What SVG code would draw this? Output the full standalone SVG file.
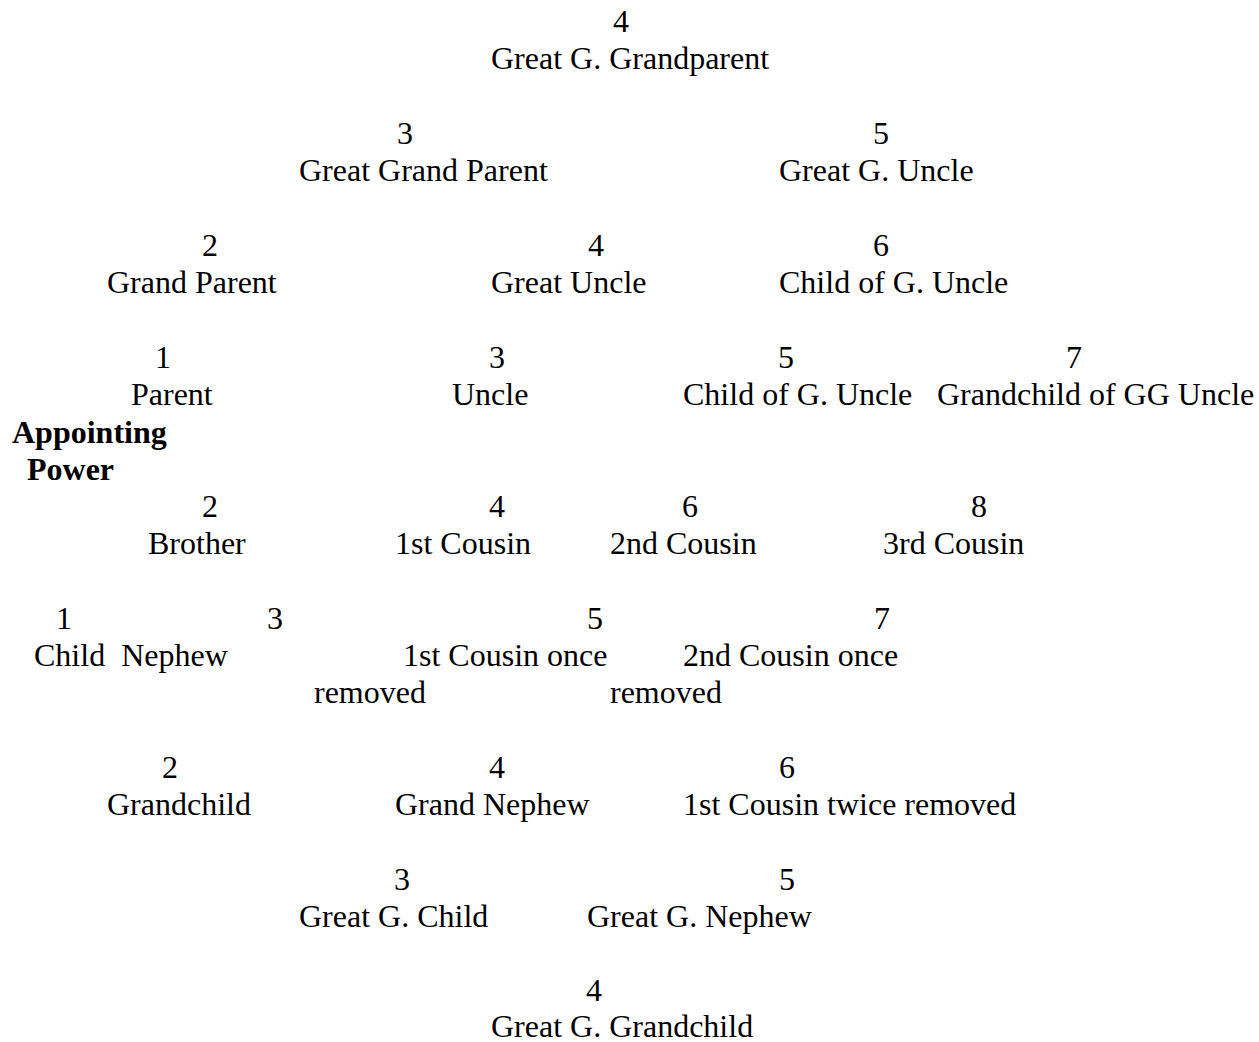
<svg xmlns="http://www.w3.org/2000/svg" width="1259" height="1042" viewBox="0 0 1259 1042">
<style>
text{font-family:"Liberation Serif","Times New Roman",serif;font-size:32px;fill:#000}
.n{text-anchor:middle}
.b{font-weight:bold}
</style>
<rect width="1259" height="1042" fill="#fff"/>
<g id="connectors"></g>
<g id="n-ggp"><text class="n" x="621" y="32">4</text><text x="491" y="69">Great G. Grandparent</text></g>
<g id="n-gp3"><text class="n" x="405" y="144">3</text><text x="299" y="181">Great Grand Parent</text></g>
<g id="n-ggu"><text class="n" x="881" y="144">5</text><text x="779" y="181">Great G. Uncle</text></g>
<g id="n-gp"><text class="n" x="210" y="256">2</text><text x="107" y="293">Grand Parent</text></g>
<g id="n-gu"><text class="n" x="596" y="256">4</text><text x="491" y="293">Great Uncle</text></g>
<g id="n-cgu6"><text class="n" x="881" y="256">6</text><text x="779" y="293">Child of G. Uncle</text></g>
<g id="n-parent"><text class="n" x="163" y="368">1</text><text x="131" y="405">Parent</text></g>
<g id="n-uncle"><text class="n" x="497" y="368">3</text><text x="452" y="405">Uncle</text></g>
<g id="n-cgu5"><text class="n" x="786" y="368">5</text><text x="683" y="405">Child of G. Uncle</text></g>
<g id="n-ggu7"><text class="n" x="1074" y="368">7</text><text x="937" y="405">Grandchild of GG Uncle</text></g>
<g id="n-ap"><text class="b" x="12" y="443">Appointing</text><text class="b" x="27" y="480">Power</text></g>
<g id="n-brother"><text class="n" x="210" y="517">2</text><text x="148" y="554">Brother</text></g>
<g id="n-c1"><text class="n" x="497" y="517">4</text><text x="395" y="554">1st Cousin</text></g>
<g id="n-c2"><text class="n" x="690" y="517">6</text><text x="610" y="554">2nd Cousin</text></g>
<g id="n-c3"><text class="n" x="979" y="517">8</text><text x="883" y="554">3rd Cousin</text></g>
<g id="n-child"><text class="n" x="64" y="629">1</text><text x="34" y="666" xml:space="preserve">Child  Nephew</text></g>
<g id="n-nephew"><text class="n" x="275" y="629">3</text></g>
<g id="n-c1r"><text class="n" x="595" y="629">5</text><text x="403" y="666">1st Cousin once</text><text x="314" y="703">removed</text></g>
<g id="n-c2r"><text class="n" x="882" y="629">7</text><text x="683" y="666">2nd Cousin once</text><text x="610" y="703">removed</text></g>
<g id="n-gc"><text class="n" x="170" y="778">2</text><text x="107" y="815">Grandchild</text></g>
<g id="n-gn"><text class="n" x="497" y="778">4</text><text x="395" y="815">Grand Nephew</text></g>
<g id="n-c1tr"><text class="n" x="787" y="778">6</text><text x="683" y="815">1st Cousin twice removed</text></g>
<g id="n-ggc"><text class="n" x="402" y="890">3</text><text x="299" y="927">Great G. Child</text></g>
<g id="n-ggn"><text class="n" x="787" y="890">5</text><text x="587" y="927">Great G. Nephew</text></g>
<g id="n-gggc"><text class="n" x="594" y="1001">4</text><text x="491" y="1037">Great G. Grandchild</text></g>
</svg>
